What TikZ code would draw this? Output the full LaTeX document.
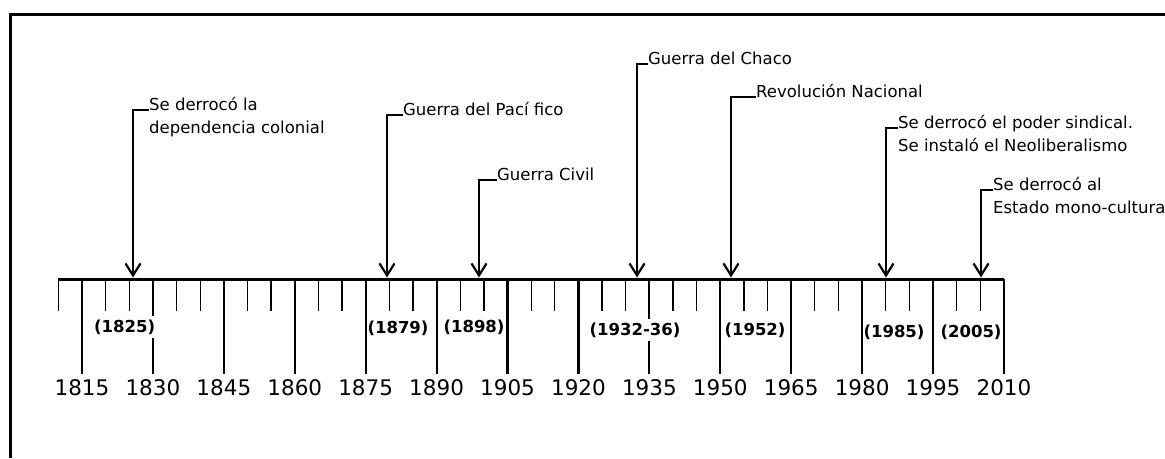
\documentclass[tikz,border=0pt]{standalone}
\usepackage{fontspec}
\setmainfont{DejaVu Sans}
\usetikzlibrary{arrows.meta}
\newcommand{\twolines}[2]{\vtop{\hbox{#1}\hbox{#2}}}
\begin{document}
\begin{tikzpicture}[x=1pt,y=-1pt,
  evtext/.style={anchor=base west, inner sep=0pt, font=\fontsize{16.5}{23.5}\selectfont},
  yrlabel/.style={font=\fontsize{21.5}{24}\selectfont, inner sep=0pt},
  datelabel/.style={font=\fontsize{16.5}{20}\selectfont\bfseries, fill=white, inner xsep=1pt, inner ysep=4pt},
  axisline/.style={line width=3pt},
  majortick/.style={line width=2.2pt},
  minortick/.style={line width=1.3pt},
  evarrow/.style={line width=2.2pt, -{Straight Barb[length=12pt,width=15pt,line width=2.2pt]}},
  frameline/.style={line width=3pt}
]
\useasboundingbox (0,0) rectangle (1165,458);
\draw[frameline] (10,458) -- (10,14) -- (1165,14);

% ticks
\draw[minortick] (58.4,279) -- (58.4,311);
\foreach \m in {0,...,13}{
  \pgfmathsetmacro{\xx}{82+\m*70.92}
  \pgfmathtruncatemacro{\yr}{1815+15*\m}
  \draw[majortick] (\xx,279) -- (\xx,374);
  \node[yrlabel] (y\yr) at (\xx,388) {\yr};
}
\foreach \m in {0,...,12}{
  \pgfmathsetmacro{\xa}{82+\m*70.92+23.64}
  \pgfmathsetmacro{\xb}{82+\m*70.92+47.28}
  \draw[minortick] (\xa,279) -- (\xa,311);
  \draw[minortick] (\xb,279) -- (\xb,311);
}
\coordinate (axL) at (58.4,279);
\coordinate (axR) at (1004,279);
\draw[axisline] (axL) -- (axR);

% date labels
\node[datelabel] (d1825) at (124.7,327) {(1825)};
\node[datelabel] (d1879) at (398,328) {(1879)};
\node[datelabel] (d1898) at (474,327) {(1898)};
\node[datelabel] (d1932) at (635,330) {(1932-36)};
\node[datelabel] (d1952) at (755,330) {(1952)};
\node[datelabel] (d1985) at (894,332) {(1985)};
\node[datelabel] (d2005) at (971,332) {(2005)};

% events
\node[evtext] (e1825) at (149,110) {\twolines{Se derrocó la}{dependencia colonial}};
\node[evtext] (e1879) at (403,115) {Guerra del Pací fico};
\node[evtext] (e1898) at (497,180) {Guerra Civil};
\node[evtext] (e1932) at (648,64) {Guerra del Chaco};
\node[evtext] (e1952) at (756,97) {Revolución Nacional};
\node[evtext] (e1985) at (898,128) {\twolines{Se derrocó el poder sindical.}{Se instaló el Neoliberalismo}};
\node[evtext] (e2005) at (993,190) {\twolines{Se derrocó al}{Estado mono-cultura}};

\coordinate (a1825) at (133,277.5);
\coordinate (a1879) at (387,277.5);
\coordinate (a1898) at (479,277.5);
\coordinate (a1932) at (637,277.5);
\coordinate (a1952) at (731,277.5);
\coordinate (a1985) at (886,277.5);
\coordinate (a2005) at (981,277.5);

\foreach \e in {1825,1879,1898,1932,1952,1985,2005}{
  \draw[evarrow] (e\e.base west) -- (e\e.base west -| a\e) -- (a\e);
}
\end{tikzpicture}
\end{document}
